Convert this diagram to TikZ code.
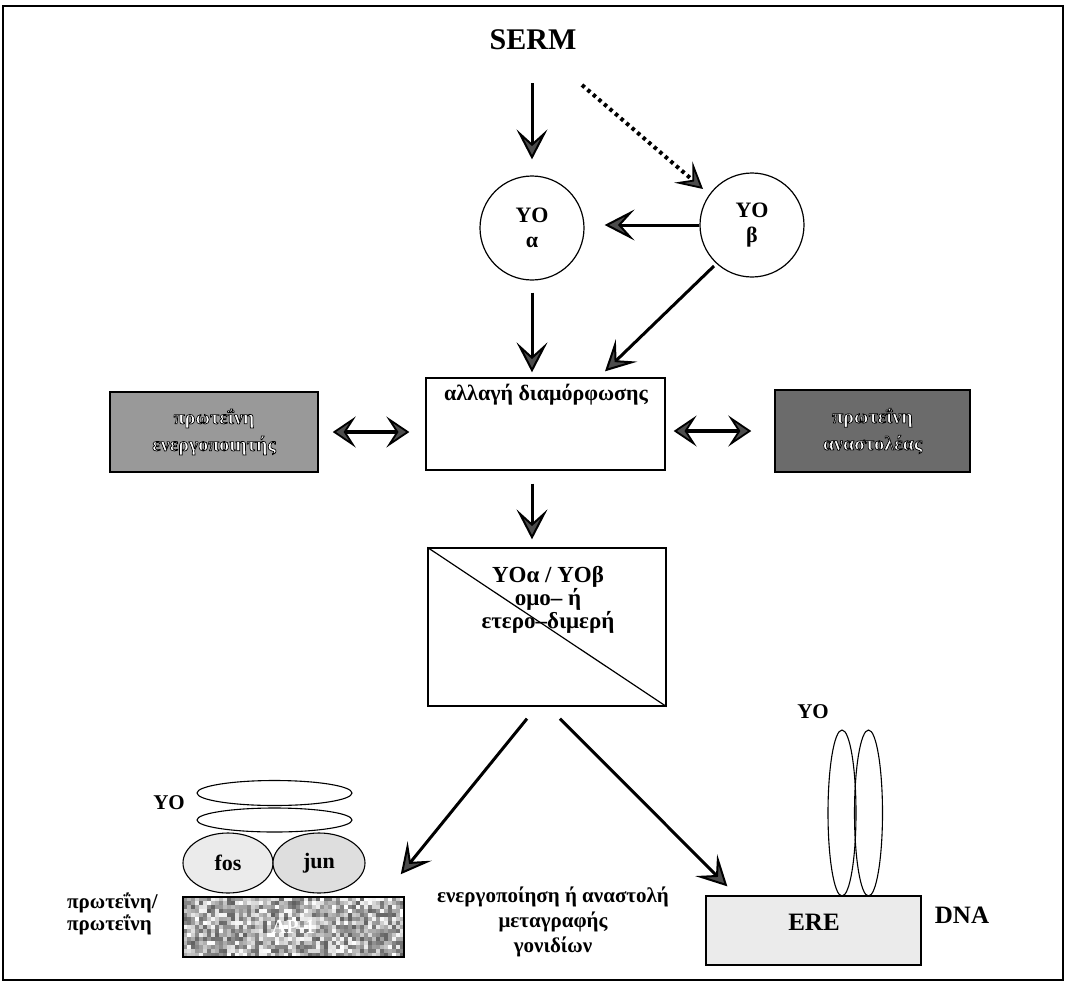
\documentclass[tikz,border=0pt]{standalone}
\usepackage{fontspec}
\setmainfont{Liberation Serif}
\usetikzlibrary{arrows.meta,shapes.geometric}
\definecolor{headgray}{gray}{0.30}
\definecolor{actgray}{gray}{0.60}
\definecolor{repgray}{gray}{0.42}
\newcommand\outl[1]{\special{pdf:literal direct 2 Tr 0.7 w 0 0 0 RG}#1\special{pdf:literal direct 0 Tr}}
\begin{document}
\begin{tikzpicture}[x=1pt,y=-1pt,
  every node/.style={inner sep=0pt},
  arr/.style={line width=3pt,-{Stealth[length=30pt,width=31pt,inset=14pt,line width=2pt,fill=headgray]}},
  darr/.style={line width=4pt,dash pattern=on 3.5pt off 3.8pt,-{Stealth[length=26pt,width=28pt,inset=12pt,line width=1.8pt,fill=headgray]}},
  dbl/.style={line width=3.5pt,{Stealth[length=23pt,width=31pt,inset=10pt,line width=1.8pt,fill=headgray]}-{Stealth[length=23pt,width=31pt,inset=10pt,line width=1.8pt,fill=headgray]}},
  circ/.style={circle,draw,line width=1.2pt,minimum size=104pt,align=center,font=\fontsize{22}{25}\selectfont\bfseries},
  box/.style={draw,line width=1.3pt},
  lab/.style={font=\fontsize{21}{25}\selectfont\bfseries,align=center},
  ell/.style={ellipse,draw,line width=1.1pt},
  prot/.style={draw,line width=1.5pt,align=center,text=white,font=\fontsize{20}{27}\selectfont\bfseries}
]
\useasboundingbox (0,0) rectangle (1068,985);
\fill[white] (0,0) rectangle (1068,985);
\draw[line width=1.5pt] (3,6) rectangle (1063,980);

% top
\node[font=\fontsize{30}{30}\selectfont\bfseries] (serm) at (533,40) {SERM};
\node[circ] (alpha) at (532,228) {YO\\α};
\node[circ] (beta) at (752,225) {YO\\β};

% middle row
\node[box,fill=white,minimum width=239pt,minimum height=92pt] (conf) at (545.5,424) {};
\node[font=\fontsize{22}{24}\selectfont\bfseries] (conftxt) at (546,395) {αλλαγή διαμόρφωσης};
\node[prot,fill=actgray,minimum width=208pt,minimum height=80pt] (actv) at (214,432) {\outl{πρωτεΐνη}\\\outl{ενεργοποιητής}};
\node[prot,fill=repgray,minimum width=195pt,minimum height=82pt] (repr) at (872.5,431) {\outl{πρωτεΐνη}\\\outl{αναστολέας}};

% dimer box
\node[box,fill=white,minimum width=238pt,minimum height=158pt] (dimer) at (547,627) {};
\draw[line width=1.2pt] (dimer.north west) -- (dimer.south east);
\node[align=center,font=\fontsize{23}{23}\selectfont\bfseries] (dimertxt) at (548,600) {YOα / YOβ\\ομο– ή\\ετερο–διμερή};

% bottom left group
\pgfmathsetseed{7}
\foreach \i in {0,...,54}{\foreach \j in {0,...,14}{
  \pgfmathtruncatemacro\g{random(0,62)}
  \fill[black!\g] (183+\i*4.02,897+\j*4) rectangle ++(4.02,4);
}}
\node[draw,line width=1.5pt,minimum width=221pt,minimum height=60pt,font=\fontsize{20}{20}\selectfont\bfseries,text=white] (apbox) at (293.5,927) {AP-1};
\node[ell,fill=black!8,minimum width=90pt,minimum height=60pt,font=\fontsize{22}{22}\selectfont\bfseries] (fos) at (228,863) {fos};
\node[ell,fill=black!13,minimum width=92pt,minimum height=60pt,font=\fontsize{22}{22}\selectfont\bfseries] (jun) at (319,863) {jun};
\node[ell,fill=white,minimum width=155pt,minimum height=24pt] (e2) at (274.5,820) {};
\node[ell,fill=white,minimum width=155pt,minimum height=25pt] (e1) at (274.5,793) {};
\node[lab] (yo1) at (169,803) {YO};
\node[lab,align=left,anchor=west,font=\fontsize{21}{22}\selectfont\bfseries] (pp) at (67,914) {πρωτεΐνη/\\πρωτεΐνη};

% bottom middle text
\node[lab] (bott) at (553,922) {ενεργοποίηση ή αναστολή\\μεταγραφής\\γονιδίων};

% bottom right group
\node[box,fill=black!8,minimum width=215pt,minimum height=69pt] (ere) at (813.5,930.5) {};
\node[font=\fontsize{25}{25}\selectfont\bfseries] (eretxt) at (814,922) {ERE};
\node[font=\fontsize{25}{25}\selectfont\bfseries] (dna) at (962,915) {DNA};
\node[ell,minimum width=28pt,minimum height=166pt] (r1) at (842,813) {};
\node[ell,minimum width=28pt,minimum height=166pt] (r2) at (868.5,813) {};
\node[lab] (yo2) at (813,712) {YO};

% connectors
\draw[arr] ([yshift=-33pt]serm.south -| alpha.north) -- ([yshift=16pt]alpha.north);
\draw[darr] ([xshift=49pt,yshift=-45pt]serm.center) -- ([xshift=-49pt,yshift=36pt]beta.center);
\draw[arr,shorten >=20pt] (beta.west) -- (beta.west -| alpha.east);
\draw[arr,shorten <=12pt,shorten >=5pt] (alpha.south) -- (alpha.south |- conf.north);
\draw[arr] ([xshift=-38pt,yshift=-41pt]beta.center) -- ([xshift=59.5pt,yshift=6pt]conf.north);
\draw[dbl,shorten <=14pt,shorten >=16pt] (actv.east) -- (actv.east -| conf.west);
\draw[dbl,shorten <=8pt,shorten >=23pt] (conf.east |- repr.west) -- (repr.west);
\draw[arr,shorten <=13pt,shorten >=8pt] ([xshift=-13.5pt]conf.south) -- ([xshift=-15pt]dimer.north);
\draw[arr] ([xshift=-20pt,yshift=-12pt]dimer.south) -- ([xshift=-4pt,yshift=22pt]apbox.north east);
\draw[arr] ([xshift=13pt,yshift=-12pt]dimer.south) -- ([xshift=22pt,yshift=9pt]ere.north west);
\end{tikzpicture}
\end{document}
